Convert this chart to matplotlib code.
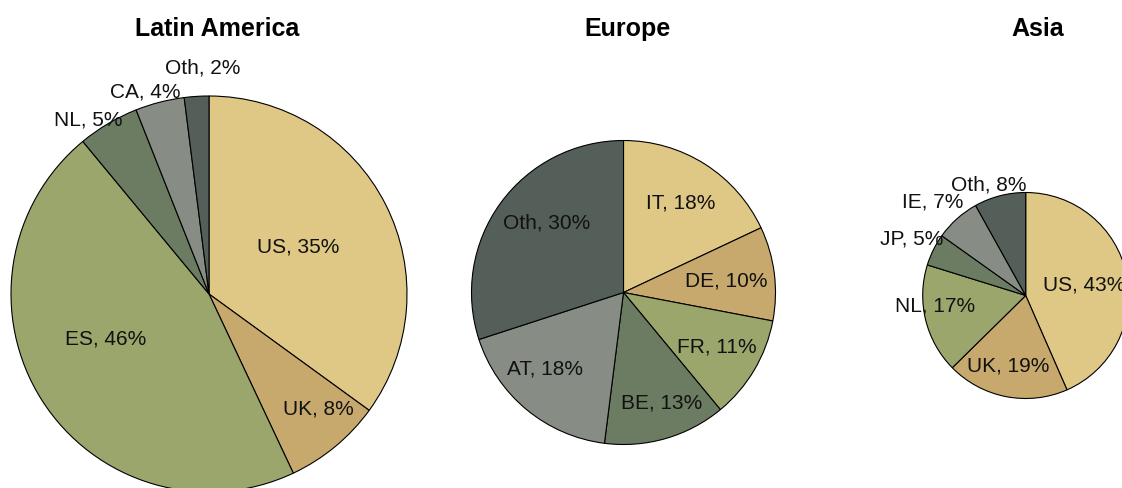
import numpy as np
import matplotlib
matplotlib.use("Agg")
import matplotlib.pyplot as plt

plt.rcParams["font.family"] = ["Liberation Sans", "DejaVu Sans"]

# shares by region, clockwise from 12 o'clock
latam_labels = ["US", "UK", "ES", "NL", "CA", "Oth"]
latam_values = [35, 8, 46, 5, 4, 2]

europe_labels = ["IT", "DE", "FR", "BE", "AT", "Oth"]
europe_values = [18, 10, 11, 13, 18, 30]

asia_labels = ["US", "UK", "NL", "JP", "IE", "Oth"]
asia_values = [43, 19, 17, 5, 7, 8]

palette = ["#dfc885", "#c8a96d", "#9ba66d", "#6b7c63", "#878d84", "#555f5a"]

W, H = 1122, 488

# center (px, from top-left), radius, title x, label radius factors, label angle nudges
pies = [
    ("Latin America", latam_labels, latam_values, (209, 294), 198, 217,
     [0.51, 0.80, 0.57, 1.07, 1.07, 1.14], [1, 4, -9, 4, 3, -2]),
    ("Europe", europe_labels, europe_values, (623.5, 292.5), 152, 628,
     [0.70, 0.68, 0.71, 0.77, 0.72, 0.68], [0, -1, 0, 3, -6, -6]),
    ("Asia", asia_labels, asia_values, (1025.7, 295.5), 103, 1038,
     [0.58, 0.71, 0.89, 1.23, 1.28, 1.13], [-2, -3, -7, 0, 3, 4]),
]

fig = plt.figure(figsize=(W / 100, H / 100), dpi=100)
ax = fig.add_axes([0, 0, 1, 1])
ax.set_xlim(0, W)
ax.set_ylim(0, H)
ax.set_aspect("equal")
ax.axis("off")

for title, labels, values, (cx, cy), r, tx, ldist, lnudge in pies:
    cy = H - cy
    ax.pie(values, colors=palette, startangle=90, counterclock=False,
           center=(cx, cy), radius=r, normalize=True,
           wedgeprops=dict(edgecolor="black", linewidth=0.8))
    frac = np.array(values, dtype=float) / sum(values)
    cum = np.cumsum(frac) - frac / 2
    for lab, v, c, d, nd in zip(labels, values, cum, ldist, lnudge):
        ang = np.deg2rad(90 - c * 360 + nd)
        ax.text(cx + d * r * np.cos(ang), cy + d * r * np.sin(ang),
                f"{lab}, {v}%", ha="center", va="center", fontsize=15,
                color="#111111")
    ax.text(tx, H - 29, title, ha="center", va="center", fontsize=18,
            fontweight="bold")

ax.set_xlim(0, W)
ax.set_ylim(0, H)

fig.savefig("out.png", dpi=100)
